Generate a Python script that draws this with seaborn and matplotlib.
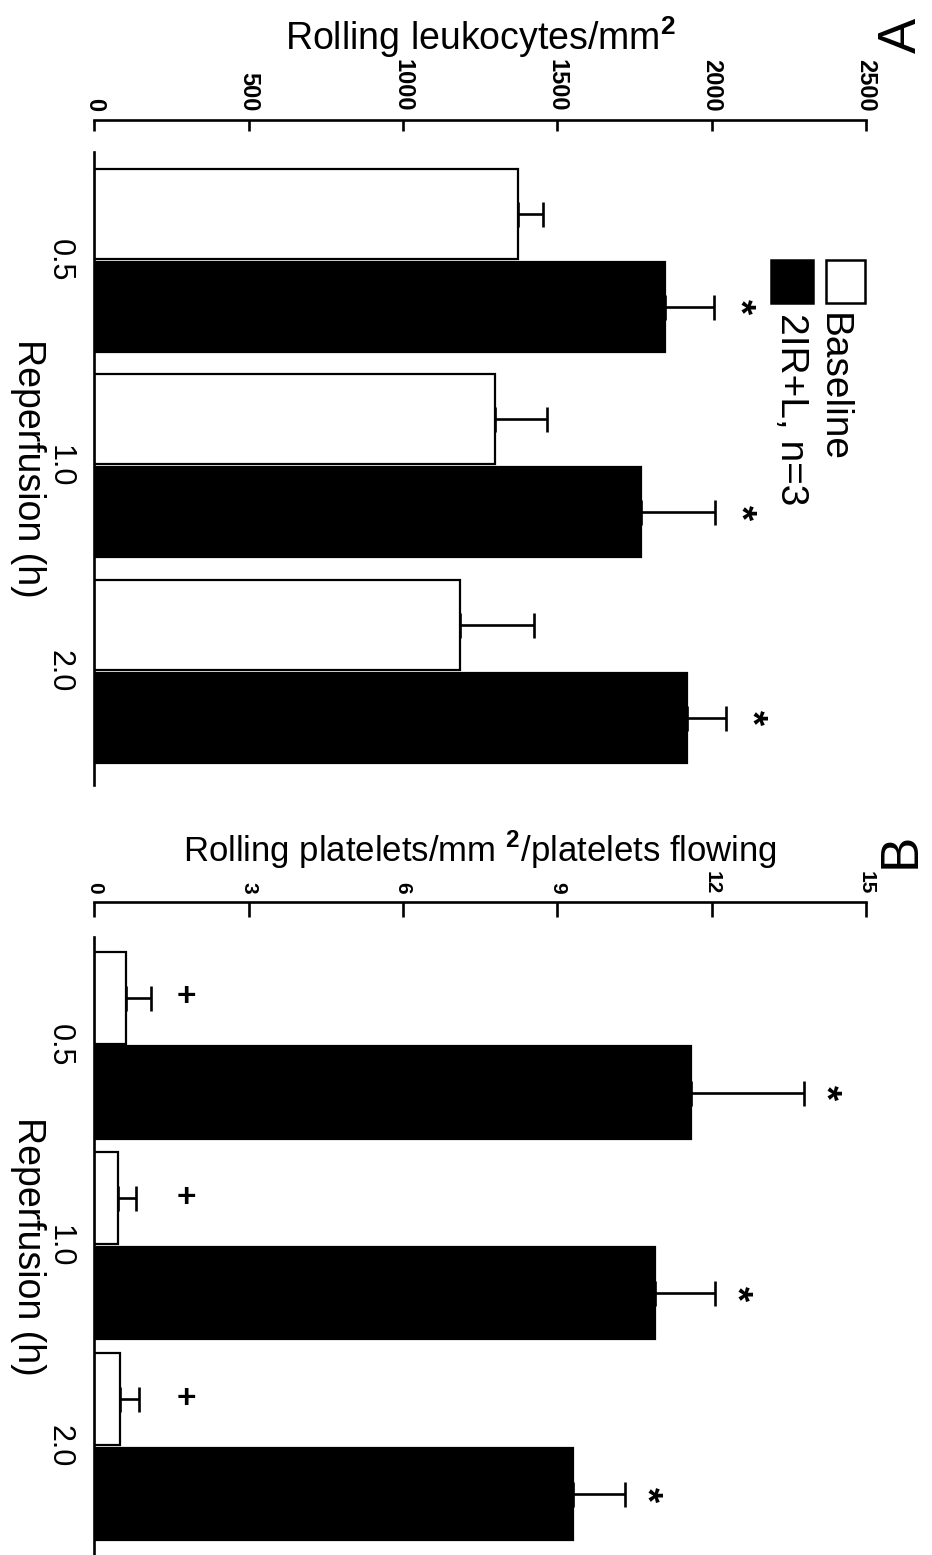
import numpy as np
import pandas as pd
import matplotlib
matplotlib.use("Agg")
import matplotlib.pyplot as plt
import seaborn as sns
from matplotlib.patches import Rectangle

# ---------------- data ----------------
times = ["0.5", "1.0", "2.0"]
groups = ["Baseline", "2IR+L, n=3"]

leuk_baseline = [1372, 1299, 1184]
leuk_baseline_err = [80, 168, 240]
leuk_ir = [1848, 1770, 1920]
leuk_ir_err = [160, 240, 125]

plat_baseline = [0.61, 0.47, 0.50]
plat_baseline_err = [0.50, 0.34, 0.37]
plat_ir = [11.6, 10.9, 9.3]
plat_ir_err = [2.2, 1.16, 1.02]

leuk_ticks = [0, 500, 1000, 1500, 2000, 2500]
plat_ticks = [0, 3, 6, 9, 12, 15]

leuk_ir_marks = ["*", "*", "*"]
plat_ir_marks = ["*", "*", "*"]
plat_base_marks = ["+", "+", "+"]

# ---------------- style ----------------
sns.set_style("white")
plt.rcParams["font.family"] = ["Liberation Sans", "DejaVu Sans"]
plt.rcParams["mathtext.fontset"] = "custom"
plt.rcParams["mathtext.rm"] = "Liberation Sans"
plt.rcParams["mathtext.bf"] = "Liberation Sans:bold"
for k in ["text.color", "axes.labelcolor", "xtick.color", "ytick.color",
          "axes.edgecolor"]:
    plt.rcParams[k] = "black"

fig = plt.figure(figsize=(9.32, 15.55), dpi=100)
axA = fig.add_axes([0.1012, 0.4952, 0.828, 0.4073])
axB = fig.add_axes([0.1012, 0.0, 0.828, 0.3974])

palette = {groups[0]: "white", groups[1]: "black"}


def panel(ax, base, base_err, ir, ir_err, ticks, xlabel, xlabel_size,
          ylim, width, spine_off, tick_len, tick_size):
    df = pd.DataFrame({
        "time": times * 2,
        "group": [groups[0]] * 3 + [groups[1]] * 3,
        "value": list(base) + list(ir),
    })
    sns.barplot(data=df, y="time", x="value", hue="group", order=times,
                hue_order=groups, palette=palette, edgecolor="black",
                linewidth=1.6, width=width, gap=0.03, errorbar=None,
                legend=False, ax=ax, saturation=1)
    # one-sided error bars from the bar containers
    for cont, vals, errs in zip(ax.containers, [base, ir], [base_err, ir_err]):
        ys = [p.get_y() + p.get_height() / 2 for p in cont.patches]
        ax.errorbar(vals, ys, xerr=[np.zeros(len(vals)), errs], fmt="none",
                    ecolor="black", elinewidth=1.9, capsize=9, capthick=1.9,
                    zorder=1)
    ax.set_xlim(ticks[0], ticks[-1])
    ax.set_ylim(*ylim)
    ax.set_xticks(ticks)
    ax.xaxis.tick_top()
    ax.xaxis.set_label_position("top")
    ax.tick_params(axis="x", direction="in", length=tick_len, width=1.9,
                   pad=6, labelrotation=-90, top=True, bottom=False,
                   labeltop=True, labelbottom=False, labelsize=tick_size)
    ax.set_xticklabels([str(t) for t in ticks], fontweight="bold",
                       fontsize=tick_size, rotation=-90)
    ax.tick_params(axis="y", length=0, pad=14, labelsize=22)
    for lab in ax.get_yticklabels():
        lab.set_rotation(-90)
        lab.set_va("center")
    for s in ["right", "bottom"]:
        ax.spines[s].set_visible(False)
    ax.spines["top"].set_position(("outward", spine_off))
    ax.spines["top"].set_linewidth(1.9)
    ax.spines["left"].set_linewidth(1.9)
    ax.set_xlabel(xlabel, fontsize=xlabel_size, labelpad=6)
    ax.set_ylabel("Reperfusion (h)", fontsize=27, rotation=-90, va="center")
    ax.yaxis.set_label_coords(-0.086, 0.5)
    return ax


panel(axA, leuk_baseline, leuk_baseline_err, leuk_ir, leuk_ir_err,
      leuk_ticks, r"Rolling leukocytes/mm$^{\mathbf{2}}$", 27,
      (2.554, -0.53), 0.905, 23, 8, 17)
panel(axB, plat_baseline, plat_baseline_err, plat_ir, plat_ir_err,
      plat_ticks, r"Rolling platelets/mm $^{\mathbf{2}}$/platelets flowing", 25,
      (2.54, -0.538), 0.946, 25, 11, 15)

# significance marks
irA = axA.containers[1]
for p, v, e, m in zip(irA.patches, leuk_ir, leuk_ir_err, leuk_ir_marks):
    axA.text(v + e + 80, p.get_y() + p.get_height() / 2, m, fontsize=28,
             fontweight="bold", ha="center", va="center", rotation=-90)
irB = axB.containers[1]
for p, v, e, m in zip(irB.patches, plat_ir, plat_ir_err, plat_ir_marks):
    axB.text(v + e + 0.4, p.get_y() + p.get_height() / 2, m, fontsize=28,
             fontweight="bold", ha="center", va="center", rotation=-90)
baseB = axB.containers[0]
for p, m in zip(baseB.patches, plat_base_marks):
    axB.text(1.78, p.get_y() + p.get_height() / 2, m, fontsize=24,
             fontweight="bold", ha="center", va="center")

# legend (rotated, drawn in axes coordinates)
axA.add_patch(Rectangle((0.948, 0.761), 0.0505, 0.068, transform=axA.transAxes,
                        facecolor="white", edgecolor="black", lw=1.8,
                        clip_on=False))
axA.add_patch(Rectangle((0.877, 0.761), 0.0544, 0.068, transform=axA.transAxes,
                        facecolor="black", edgecolor="black", lw=1.8,
                        clip_on=False))
axA.text(0.957, 0.745, groups[0], transform=axA.transAxes, rotation=-90,
         ha="center", va="top", fontsize=28)
axA.text(0.903, 0.745, groups[1], transform=axA.transAxes, rotation=-90,
         ha="center", va="top", fontsize=28)

# panel letters
fig.text(0.968, 0.9775, "A", rotation=90, ha="center", va="center", fontsize=38)
fig.text(0.966, 0.4534, "B", rotation=90, ha="center", va="center", fontsize=38)

fig.canvas.draw()
for ax, size in [(axA, 17), (axB, 15)]:
    for lab in ax.get_xticklabels():
        lab.set_fontweight("bold")
        lab.set_fontsize(size)

fig.savefig("out.png", dpi=100)
